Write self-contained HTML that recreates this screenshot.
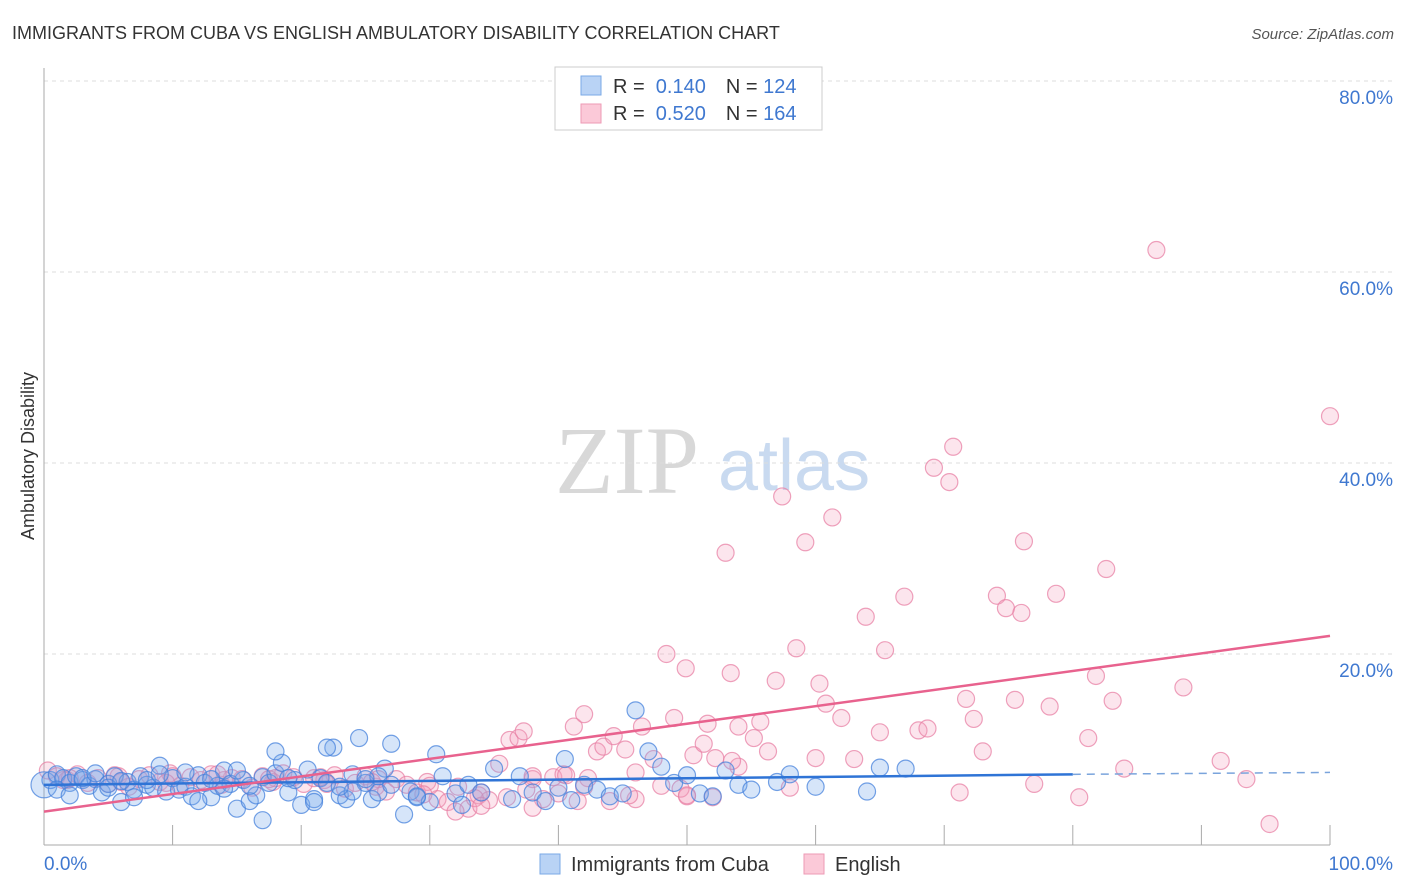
<!DOCTYPE html>
<html><head><meta charset="utf-8">
<style>
body{margin:0;background:#fff;font-family:"Liberation Sans",sans-serif;}
#wrap{position:relative;width:1406px;height:892px;overflow:hidden;}
</style></head><body>
<div id="wrap">
<svg id="chart" width="1406" height="892" xmlns="http://www.w3.org/2000/svg">
<text x="12" y="39" font-size="18" fill="#333">IMMIGRANTS FROM CUBA VS ENGLISH AMBULATORY DISABILITY CORRELATION CHART</text>
<text x="1394" y="39" font-size="15" fill="#555" font-style="italic" text-anchor="end">Source: ZipAtlas.com</text>
<text x="0" y="0" transform="translate(34,456) rotate(-90)" font-size="18" fill="#333" text-anchor="middle">Ambulatory Disability</text>
<g>
<text x="555" y="493" font-family="Liberation Serif,serif" font-size="96" fill="#d8d8d8">ZIP</text>
<text x="718" y="490" font-size="72" fill="#c9daf0">atlas</text>
</g>
<g id="grid"></g><g id="axes"></g><g id="pts"></g><g id="trends"></g>
<g>
<rect x="555" y="67" width="267" height="63" fill="#fff" stroke="#ccc"/>
<rect x="581" y="76" width="20" height="19" fill="#b9d3f5" stroke="#7aa8e6"/>
<rect x="581" y="104" width="20" height="19" fill="#fbc9d8" stroke="#ee9ab5"/>
<text x="613" y="93" font-size="20" fill="#333">R = <tspan fill="#3f78d0">&#160;0.140</tspan><tspan dx="20">N = </tspan><tspan fill="#3f78d0">124</tspan></text>
<text x="613" y="120" font-size="20" fill="#333">R = <tspan fill="#3f78d0">&#160;0.520</tspan><tspan dx="20">N = </tspan><tspan fill="#3f78d0">164</tspan></text>
</g>
<g>
<rect x="540" y="854" width="20" height="20" fill="#b9d3f5" stroke="#7aa8e6"/>
<text x="571" y="871" font-size="20" fill="#333">Immigrants from Cuba</text>
<rect x="804" y="854" width="20" height="20" fill="#fbc9d8" stroke="#ee9ab5"/>
<text x="835" y="871" font-size="20" fill="#333">English</text>
</g>
</svg>
</div>
<script>
const yTicks=[20,40,60,80];
const yTickLabels=["20.0%","40.0%","60.0%","80.0%"];
const xTicks=[0,10,20,30,40,50,60,70,80,90,100];
const blueX=[0,0.5,1,1.5,2,2.5,3,3.5,4,4.5,5,5.5,6,6.5,7,7.5,8,8.5,9,9.5,10,10.5,11,11.5,12,12.5,13,13.5,14,14.5,15,15.5,16,16.5,17,17.5,18,18.5,19,19.5,20,20.5,21,21.5,22,22.5,23,23.5,24,24.5,25,25.5,26,26.5,27,28,28.5,29,30,30.5,31,32,32.5,33,34,35,36.4,37,38,39,40,40.5,41,42,43,44,45,46,47,48,49,50,51,52,53,54,55,57,58,60,64,65,67,3,7,12,15,18,22,26,1,2,5,8,9,13,16,19,24,27,29,6,11,14,17,21,23,25,4];
const blueY=[6.3,6.8,7.4,7,6.5,7.2,6.8,6.2,6.9,5.5,6.4,7.2,4.5,6.6,5.8,7.2,6.3,6.0,8.3,5.6,7.0,5.8,6.1,5.1,7.3,6.5,5.0,6.2,7.8,6.4,3.8,6.8,4.6,5.2,7.1,6.5,7.5,8.6,5.5,6.8,4.2,7.9,4.8,7.0,6.5,10.2,5.2,4.8,7.4,11.2,6.5,4.8,5.5,8.0,10.6,3.2,5.6,5.0,4.5,9.5,7.2,5.4,4.2,6.3,5.5,8.0,4.8,7.2,5.5,4.6,6.0,9.0,4.7,6.3,5.8,5.1,5.4,14.1,9.8,8.2,6.5,7.3,5.4,5.1,7.8,6.3,5.8,6.6,7.4,6.1,5.6,8.1,8.0,7.0,5.0,4.6,7.8,9.8,10.2,7.2,5.8,5.2,6.0,6.8,7.4,6.9,6.2,7.0,5.6,6.3,5.1,6.7,7.6,5.9,2.6,4.5,6.1,6.9,7.5,6.4,5.0,5.9,6.7,7.1];
const pinkX=[0.3,1,1.8,2.6,3.4,4.2,5,5.8,6.6,7.4,8.2,9,9.8,10.6,11.4,12.2,13,13.8,14.6,15.4,16.2,17,17.8,18.6,19.4,20.2,21,21.8,22.6,23.4,24.2,25,25.8,26.6,27.4,28.2,29,29.8,30.6,31.4,32.2,33,33.8,34.6,35.4,36.2,36.9,37.3,38,38.8,39.6,40.4,41.2,42,42.3,43,43.5,44.3,45.2,46,46.5,47.4,48.4,49,49.9,50.5,51.3,51.6,52.2,53,53.4,54,55.2,55.7,56.3,56.9,57.4,58.5,59.2,60,60.3,60.8,61.3,62,63,63.9,65,65.4,66.9,68,68.7,69.2,70.4,70.7,71.2,71.7,72.3,73,74.1,74.8,75.5,76,76.2,77,78.2,78.7,80.5,81.2,81.8,82.6,83.1,84,86.5,88.6,91.5,93.5,95.3,100,2,6,10,14,18,22,26,30,34,38,42,46,50,54,58,1.5,5.5,9.5,13.5,17.5,21.5,25.5,29.5,33.5,37.5,41.5,45.5,49.5,53.5,32,34,36,38,40,44,50,52,48,40.6];
const pinkY=[7.8,7.2,6.8,7.4,6.5,7.0,6.4,7.2,6.1,6.9,7.3,6.6,7.5,6.2,7.1,6.8,7.4,6.3,7.0,6.9,6.0,7.2,6.6,7.5,7.1,6.4,7.0,6.8,7.3,5.9,6.5,7.2,6.1,5.6,6.9,6.3,5.5,6.6,4.8,4.5,6.1,3.8,5.2,4.7,8.5,11.0,11.2,11.9,6.9,4.8,7.1,7.4,12.4,13.7,7.0,9.8,10.3,11.4,10.0,7.6,12.4,9.0,20.0,13.3,18.5,9.4,10.6,12.7,9.1,30.6,18.0,12.4,11.2,12.9,9.8,17.2,36.5,20.6,31.7,9.1,16.9,14.8,34.3,13.3,9.0,23.9,11.8,20.4,26.0,12.0,12.2,39.5,38.0,41.7,5.5,15.3,13.2,9.8,26.1,24.8,15.2,24.3,31.8,6.4,14.5,26.3,5.0,11.2,17.7,28.9,15.1,8.0,62.3,16.5,8.8,6.9,2.2,44.9,7.0,6.6,7.2,6.8,7.0,6.4,6.9,6.2,5.5,7.2,6.1,4.8,5.1,8.2,6.0,6.8,7.3,6.5,7.4,6.9,7.1,6.6,5.3,4.9,5.8,4.6,5.2,5.9,8.8,3.5,4.1,5.0,3.9,5.4,4.6,5.2,5.0,6.2,7.3];
const blueTrend=[[0,6.3],[80,7.4]];
const blueDash=[[80,7.4],[100,7.6]];
const pinkTrend=[[0,3.5],[100,21.9]];
const L=44,R=1330,Y0=845,PXPER=191/20;
const sx=v=>L+(R-L)*v/100, sy=v=>Y0-v*PXPER;
const NS="http://www.w3.org/2000/svg";
function mk(tag,attrs,parent){const e=document.createElementNS(NS,tag);for(const k in attrs)e.setAttribute(k,attrs[k]);parent.appendChild(e);return e;}
const grid=document.getElementById('grid'),axes=document.getElementById('axes'),pts=document.getElementById('pts'),tr=document.getElementById('trends');
yTicks.forEach((t,i)=>{
 const l=mk('line',{x1:L,x2:1395,y1:sy(t),y2:sy(t),stroke:'#ddd','stroke-dasharray':'4,4'},grid);
 
 
 const tx=mk('text',{x:1393,y:sy(t)+23,'font-size':19,fill:'#3f78d0','text-anchor':'end'},axes);
 tx.textContent=yTickLabels[i];
 
 
});
const ya=mk('line',{x1:L,x2:L,y1:68,y2:Y0,stroke:'#aaa'},axes);


const xa=mk('line',{x1:L,x2:R,y1:Y0,y2:Y0,stroke:'#aaa'},axes);


xTicks.forEach(t=>{const l=mk('line',{x1:sx(t),x2:sx(t),y1:Y0,y2:Y0-20,stroke:'#aaa'},axes);
 
 });
let x0=mk('text',{x:44,y:870,'font-size':19,fill:'#3f78d0'},axes);x0.textContent='0.0%';


let x1=mk('text',{x:1393,y:870,'font-size':19,fill:'#3f78d0','text-anchor':'end'},axes);x1.textContent='100.0%';


pinkX.forEach((v,i)=>{const c=mk('circle',{cx:sx(v),cy:sy(pinkY[i]),r:8.5,fill:'rgba(245,160,190,0.28)',stroke:'rgba(232,130,165,0.75)','stroke-width':1.2},pts);
 
 });
blueX.forEach((v,i)=>{const c=mk('circle',{cx:sx(v),cy:sy(blueY[i]),r:i===0?13:8.5,fill:'rgba(120,170,235,0.3)',stroke:'rgba(70,130,220,0.75)','stroke-width':1.2},pts);
 
 });
const bt=mk('line',{x1:sx(blueTrend[0][0]),y1:sy(blueTrend[0][1]),x2:sx(blueTrend[1][0]),y2:sy(blueTrend[1][1]),stroke:'#2f74d6','stroke-width':2.5},tr);


const bd=mk('line',{x1:sx(blueDash[0][0]),y1:sy(blueDash[0][1]),x2:sx(blueDash[1][0]),y2:sy(blueDash[1][1]),stroke:'#7aa4dc','stroke-width':1.5,'stroke-dasharray':'8,6'},tr);


const pt=mk('line',{x1:sx(pinkTrend[0][0]),y1:sy(pinkTrend[0][1]),x2:sx(pinkTrend[1][0]),y2:sy(pinkTrend[1][1]),stroke:'#e8628e','stroke-width':2.5},tr);


</script>
</body></html>
